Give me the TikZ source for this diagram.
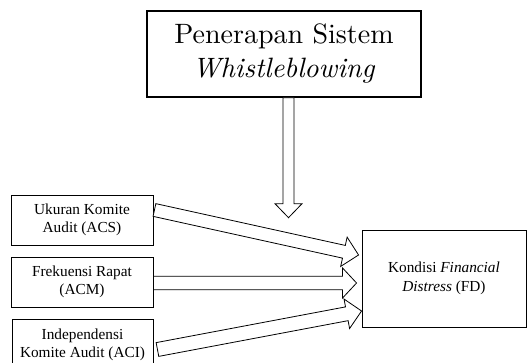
\documentclass[tikz,border=0pt]{standalone}
\usepackage{fontspec}
\newfontfamily\tnr{Liberation Serif}
\newfontfamily\lmten{lmroman10}[Extension=.otf, UprightFont=*-regular, ItalicFont=*-italic]
\usetikzlibrary{calc}
\tikzset{
  box/.style={draw, line width=0.9pt, inner sep=0pt, align=center,
    font=\tnr\fontsize{15.3}{18.5}\selectfont},
  bigbox/.style={draw, line width=1.4pt, inner sep=0pt, align=center,
    font=\lmten\fontsize{28}{34}\selectfont},
  blockarr/.style={draw, fill=white, line width=0.8pt, line join=miter}
}
\newcommand\blockarrow[5]{%
  \coordinate (bah) at ($(#2)!#5!(#1)$);
  \draw[blockarr] ($(#1)!#3!90:(#2)$) -- ($(bah)!#3!90:(#2)$) -- ($(bah)!#4!90:(#2)$) -- (#2)
    -- ($(bah)!#4!-90:(#2)$) -- ($(bah)!#3!-90:(#2)$) -- ($(#1)!#3!-90:(#2)$) -- cycle;}
\begin{document}
\begin{tikzpicture}[x=1pt,y=1pt]
\useasboundingbox (0,0) rectangle (527,362);
\node[bigbox, minimum width=274pt, minimum height=86pt] (ws) at (284,308)
  {Penerapan Sistem\\\textit{Whistleblowing}};
\node[box, minimum width=142pt, minimum height=50pt] (acs) at (82,142)
  {Ukuran Komite\\Audit (ACS)};
\node[box, minimum width=142pt, minimum height=50pt] (acm) at (82,80)
  {Frekuensi Rapat\\(ACM)};
\node[box, minimum width=141pt, minimum height=52pt] (aci) at (82.5,17)
  {Independensi\\Komite Audit (ACI)};
\node[box, minimum width=164pt, minimum height=97pt] (fd) at (444,83.5)
  {Kondisi \textit{Financial}\\\textit{Distress} (FD)};
\coordinate (a1s) at ($(acs.east)+(1,10)$);
\coordinate (a1e) at ($(fd.west)+(-3,23.5)$);
\coordinate (a2s) at ($(acm.east)+(0,-1)$);
\coordinate (a2e) at ($(fd.west)+(-5,-4.5)$);
\coordinate (a3s) at ($(aci.east)+(4,-4.5)$);
\coordinate (a3e) at ($(fd.west)+(0,-32.5)$);
\coordinate (a4s) at ($(ws.south)+(4.5,0)$);
\coordinate (a4e) at ($(ws.south)+(4.5,-120)$);
\blockarrow{a1s}{a1e}{6.5pt}{15pt}{15pt}
\blockarrow{a2s}{a2e}{6.8pt}{15pt}{14pt}
\blockarrow{a3s}{a3e}{7pt}{15pt}{15pt}
\blockarrow{a4s}{a4e}{5.5pt}{13.5pt}{14pt}
\end{tikzpicture}
\end{document}
